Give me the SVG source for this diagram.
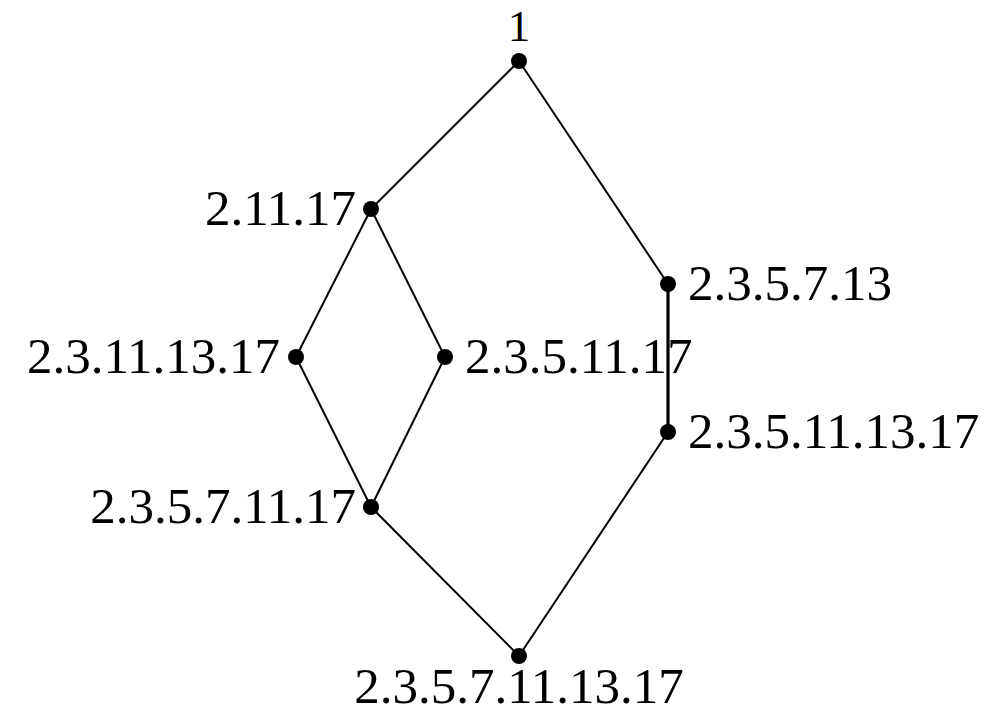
<svg xmlns="http://www.w3.org/2000/svg" width="1004" height="712" viewBox="0 0 1004 712">
<style>
.e{stroke:#000;stroke-width:2;fill:none;stroke-linecap:round}
.t{stroke-width:3.2}
.d{fill:#000}
text{font-family:"Liberation Serif","DejaVu Serif",serif;font-size:51px;fill:#000}
.l{text-anchor:end}
.m{text-anchor:middle}
.s{font-size:45px}
</style>
<rect width="1004" height="712" fill="#fff"/>
<g id="connectors">
<line class="e" x1="519" y1="61" x2="371" y2="209"/>
<line class="e" x1="519" y1="61" x2="668" y2="284"/>
<line class="e" x1="371" y1="209" x2="296" y2="357"/>
<line class="e" x1="371" y1="209" x2="445" y2="357"/>
<line class="e" x1="296" y1="357" x2="371" y2="507"/>
<line class="e" x1="445" y1="357" x2="371" y2="507"/>
<line class="e" x1="371" y1="507" x2="519" y2="656"/>
<line class="e t" x1="668" y1="284" x2="668" y2="432"/>
<line class="e" x1="668" y1="432" x2="519" y2="656"/>
</g>
<g id="n1"><circle class="d" cx="519" cy="61" r="8"/><text class="m s" x="519" y="41">1</text></g>
<g id="n2"><circle class="d" cx="371" cy="209" r="8"/><text class="l" x="356" y="225">2.11.17</text></g>
<g id="n3"><circle class="d" cx="296" cy="357" r="8"/><text class="l" x="280" y="373">2.3.11.13.17</text></g>
<g id="n4"><circle class="d" cx="445" cy="357" r="8"/><text x="465" y="373">2.3.5.11.17</text></g>
<g id="n5"><circle class="d" cx="371" cy="507" r="8"/><text class="l" x="356" y="523">2.3.5.7.11.17</text></g>
<g id="n6"><circle class="d" cx="519" cy="656" r="8"/><text class="m" x="519" y="703">2.3.5.7.11.13.17</text></g>
<g id="n7"><circle class="d" cx="668" cy="284" r="8"/><text x="688" y="300">2.3.5.7.13</text></g>
<g id="n8"><circle class="d" cx="668" cy="432" r="8"/><text x="688" y="448">2.3.5.11.13.17</text></g>
</svg>
